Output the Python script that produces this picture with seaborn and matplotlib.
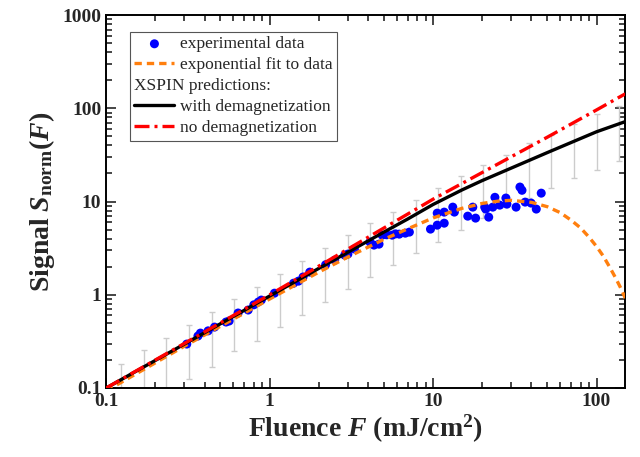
import matplotlib
matplotlib.use("Agg")
import matplotlib.pyplot as plt
import matplotlib.ticker as ticker
import seaborn as sns

# experimental data (blue dots)
fluence_data = [0.311, 0.364, 0.377, 0.42, 0.46, 0.541, 0.565, 0.641, 0.739, 0.80,
                0.852, 0.889, 1.07, 1.40, 1.50, 1.60, 1.76, 2.2, 2.5, 2.88,
                3.01, 3.3, 4.11, 4.35, 4.67, 4.88, 5.2, 5.62, 5.9, 6.21,
                6.76, 7.16, 9.64, 10.6, 10.6, 11.7, 11.7, 13.2, 13.5, 16.3,
                17.5, 18.2, 20.7, 21.0, 21.9, 23.2, 23.9, 25.6, 27.9, 28.3,
                32.2, 34.0, 35.0, 36.6, 39.8, 42.8, 45.9]
signal_data = [0.296, 0.361, 0.388, 0.41, 0.45, 0.510, 0.523, 0.637, 0.686, 0.78,
               0.835, 0.877, 1.04, 1.33, 1.40, 1.55, 1.75, 2.1, 2.35, 2.66,
               2.73, 3.1, 3.67, 3.41, 3.49, 4.36, 4.4, 4.36, 4.5, 4.47,
               4.58, 4.70, 5.06, 7.51, 5.58, 7.70, 5.86, 8.71, 7.70, 6.97,
               8.71, 6.64, 8.71, 8.30, 6.80, 8.71, 11.1, 9.15, 10.9, 9.38,
               8.71, 14.3, 13.2, 9.86, 9.62, 8.30, 12.3]

# exponential fit to data (orange dashed)
fluence_fit = [0.1, 0.3, 1, 2, 3, 5, 7, 10, 15, 20, 25, 30, 40, 50, 60, 70,
               80, 90, 100, 110, 120, 130, 140, 150]
signal_fit = [0.093, 0.28, 0.90, 1.75, 2.53, 3.93, 5.1, 6.67, 8.45, 9.55, 10.1,
              10.3, 9.8, 8.8, 7.6, 6.3, 5.2, 4.15, 3.3, 2.6, 2.0, 1.55, 1.2, 0.92]

# XSPIN with demagnetization (black)
fluence_demag = [0.1, 0.3, 1, 2, 3, 5, 7, 10, 15, 20, 30, 50, 70, 100, 150]
signal_demag = [0.1, 0.295, 0.97, 1.92, 2.85, 4.7, 6.5, 9.3, 13.3, 16.8, 22.8,
                33.5, 43, 56, 72]

# XSPIN no demagnetization (red dash-dot)
fluence_nodemag = [0.1, 1, 2, 3, 5, 10, 20, 50, 100, 150]
signal_nodemag = [0.1, 1.0, 2.03, 3.08, 5.2, 10.6, 20.5, 49, 96, 143]

# gray error bars on the XSPIN prediction
fluence_err = [0.123, 0.170, 0.233, 0.321, 0.442, 0.608, 0.836, 1.15, 1.58, 2.18,
               3.00, 4.12, 5.67, 7.81, 10.7, 14.8, 20.3, 28.0, 38.5, 53.0,
               72.9, 100, 138]
signal_err = [0.115, 0.160, 0.218, 0.300, 0.41, 0.57, 0.77, 1.07, 1.45, 2.0,
              2.75, 3.75, 4.95, 6.65, 8.85, 11.8, 15.6, 20.1, 26.5, 33,
              43, 54, 66]
yerr = [0.068, 0.094, 0.130, 0.175, 0.24, 0.32, 0.45, 0.62, 0.85, 1.16,
        1.6, 2.2, 2.85, 3.85, 5.15, 6.9, 9.0, 11.3, 15.5, 19, 25, 32, 39]

sns.set_style("ticks")
plt.rcParams["font.family"] = ["Liberation Serif", "DejaVu Serif"]
plt.rcParams["mathtext.fontset"] = "custom"
plt.rcParams["mathtext.rm"] = "Liberation Serif:bold"
plt.rcParams["mathtext.it"] = "Liberation Serif:bold:italic"
plt.rcParams["mathtext.bf"] = "Liberation Serif:bold"

fig, ax = plt.subplots(figsize=(6.4, 4.57), dpi=100)
fig.subplots_adjust(left=0.166, right=0.977, bottom=0.151, top=0.967)
ax.set_xscale("log")
ax.set_yscale("log")

ax.errorbar(fluence_err, signal_err, yerr=yerr, fmt="none", ecolor="#cccccc",
            elinewidth=1.0, capsize=2.5, capthick=1.0, zorder=1)

sns.scatterplot(x=fluence_data, y=signal_data, ax=ax, color="#0000ff", s=42,
                edgecolor="none", label="experimental data", zorder=2)
sns.lineplot(x=fluence_fit, y=signal_fit, ax=ax, color="#ff7f0e", lw=2.4,
             linestyle=(0, (2.2, 1.5)), estimator=None, sort=False,
             label="exponential fit to data", zorder=3)
ax.plot([], [], color="none", label="XSPIN predictions:")
sns.lineplot(x=fluence_demag, y=signal_demag, ax=ax, color="black", lw=2.4,
             estimator=None, sort=False, label="with demagnetization", zorder=4)
sns.lineplot(x=fluence_nodemag, y=signal_nodemag, ax=ax, color="#ff0000", lw=2.4,
             linestyle=(0, (4.5, 1.5, 0.9, 1.5)), estimator=None, sort=False,
             label="no demagnetization", zorder=5)

ax.set_xlim(0.1, 150)
ax.set_ylim(0.1, 1000)

fmt = ticker.FuncFormatter(lambda v, _: f"{v:g}")
ax.xaxis.set_major_formatter(fmt)
ax.yaxis.set_major_formatter(fmt)
ax.xaxis.set_minor_formatter(ticker.NullFormatter())
ax.yaxis.set_minor_formatter(ticker.NullFormatter())
ax.tick_params(which="both", direction="in", top=True, right=True,
               width=1.2, labelsize=14)
ax.tick_params(which="major", length=7)
ax.tick_params(which="minor", length=4)
for lab in ax.get_xticklabels() + ax.get_yticklabels():
    lab.set_fontweight("bold")
for sp in ax.spines.values():
    sp.set_linewidth(1.4)
    sp.set_color("black")

ax.set_xlabel(r"Fluence $F$ (mJ/cm$^{2}$)", fontsize=20, fontweight="bold",
              labelpad=2)
ax.set_ylabel(r"Signal $S_{\mathrm{norm}}(F)$", fontsize=20, fontweight="bold",
              labelpad=4)

handles, labels = ax.get_legend_handles_labels()
order = ["experimental data", "exponential fit to data", "XSPIN predictions:",
         "with demagnetization", "no demagnetization"]
lookup = dict(zip(labels, handles))
leg = ax.legend([lookup[k] for k in order], order, loc="upper left",
                bbox_to_anchor=(0.046, 0.955), fontsize=12.5, frameon=True,
                fancybox=False, edgecolor="#555555", framealpha=1,
                handlelength=2.3, handletextpad=0.3, borderpad=0.25,
                labelspacing=0.28, borderaxespad=0)
leg.get_frame().set_linewidth(0.8)
try:
    # pull the "XSPIN predictions:" text to the left edge (no handle)
    row = leg._legend_handle_box.get_children()[0].get_children()[2]
    row.get_children()[0].width = 0
    row.sep = 0
except Exception:
    pass

fig.savefig("out.png", dpi=100)
